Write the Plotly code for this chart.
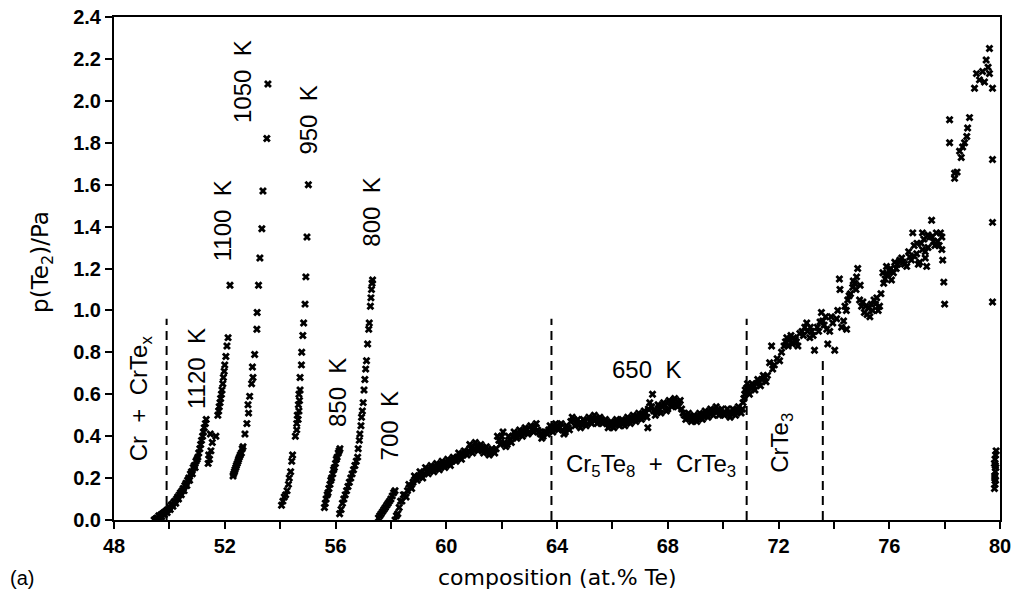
import plotly.graph_objects as go

# ---------------- data ----------------
x_1120 = [49.45, 49.50, 49.55, 49.60, 49.62, 49.65, 49.70, 49.72, 49.75, 49.80, 49.82, 49.85, 49.90, 49.92, 49.95,
          50.00, 50.03, 50.06, 50.10, 50.13, 50.16, 50.20, 50.23, 50.26, 50.30, 50.33, 50.36, 50.40, 50.43, 50.46,
          50.50, 50.53, 50.56, 50.60, 50.63, 50.66, 50.70, 50.73, 50.76, 50.80, 50.83, 50.86, 50.90, 50.93, 50.96,
          51.00, 51.03, 51.06, 51.10, 51.13, 51.16, 51.20, 51.23, 51.26, 51.30, 51.33]
p_1120 = [0.00, 0.005, 0.01, 0.00, 0.02, 0.01, 0.025, 0.015, 0.03, 0.035, 0.025, 0.04, 0.045, 0.035, 0.05,
          0.06, 0.05, 0.07, 0.075, 0.065, 0.085, 0.09, 0.08, 0.10, 0.11, 0.10, 0.12, 0.13, 0.12, 0.14,
          0.15, 0.14, 0.165, 0.175, 0.165, 0.19, 0.20, 0.19, 0.22, 0.23, 0.22, 0.25, 0.26, 0.25, 0.28,
          0.29, 0.30, 0.32, 0.34, 0.36, 0.38, 0.40, 0.42, 0.44, 0.46, 0.48]

x_1100 = [51.40, 51.45, 51.42, 51.50, 51.55, 51.48, 51.68, 51.75, 51.78, 51.80, 51.83, 51.85, 51.88, 51.90, 51.93,
          51.95, 51.98, 52.00, 52.04, 52.08, 52.12, 52.19]
p_1100 = [0.27, 0.29, 0.31, 0.33, 0.37, 0.41, 0.40, 0.50, 0.52, 0.54, 0.56, 0.58, 0.60, 0.62, 0.65,
          0.68, 0.71, 0.74, 0.78, 0.83, 0.87, 1.12]

x_1050 = [52.30, 52.32, 52.35, 52.37, 52.40, 52.42, 52.45, 52.48, 52.50, 52.53, 52.56, 52.60, 52.63, 52.66,
          52.73, 52.80, 52.86, 52.84, 52.90, 52.97, 53.02, 53.00, 53.08, 53.16, 53.17, 53.22, 53.27, 53.34,
          53.38, 53.52, 53.56]
p_1050 = [0.21, 0.22, 0.23, 0.24, 0.25, 0.26, 0.27, 0.28, 0.29, 0.30, 0.31, 0.32, 0.34, 0.35,
          0.41, 0.46, 0.51, 0.55, 0.59, 0.65, 0.68, 0.73, 0.79, 0.91, 0.99, 1.12, 1.25, 1.39,
          1.57, 1.82, 2.08]

x_950 = [54.05, 54.10, 54.15, 54.20, 54.25, 54.30, 54.33, 54.38, 54.42, 54.45, 54.55, 54.60, 54.60, 54.65, 54.62,
         54.68, 54.66, 54.70, 54.68, 54.72, 54.72, 54.77, 54.78, 54.82, 54.85, 54.90, 54.93, 54.97, 55.02]
p_950 = [0.07, 0.09, 0.11, 0.12, 0.14, 0.17, 0.20, 0.23, 0.28, 0.31, 0.40, 0.43, 0.46, 0.48, 0.50,
         0.52, 0.55, 0.57, 0.60, 0.62, 0.68, 0.74, 0.80, 0.88, 0.94, 1.03, 1.16, 1.35, 1.60]

x_850 = [55.60, 55.63, 55.66, 55.70, 55.73, 55.76, 55.80, 55.83, 55.86, 55.90, 55.93, 55.96, 56.00, 56.03,
         56.06, 56.10, 56.13, 56.16]
p_850 = [0.06, 0.08, 0.10, 0.12, 0.13, 0.15, 0.17, 0.19, 0.20, 0.22, 0.24, 0.25, 0.27, 0.29,
         0.30, 0.32, 0.33, 0.34]

x_800 = [56.15, 56.20, 56.25, 56.30, 56.35, 56.40, 56.45, 56.50, 56.55, 56.60, 56.65, 56.70, 56.75, 56.80,
         56.82, 56.86, 56.88, 56.92, 56.94, 56.97, 57.00, 57.03, 57.06, 57.09, 57.12, 57.16, 57.20, 57.22,
         57.26, 57.28, 57.30, 57.32, 57.34]
p_800 = [0.03, 0.05, 0.08, 0.10, 0.12, 0.14, 0.16, 0.18, 0.20, 0.22, 0.24, 0.26, 0.28, 0.30,
         0.34, 0.38, 0.41, 0.45, 0.49, 0.52, 0.56, 0.62, 0.67, 0.72, 0.76, 0.84, 0.91, 0.94,
         1.02, 1.06, 1.10, 1.13, 1.145]

x_700 = [57.55, 57.60, 57.65, 57.70, 57.75, 57.80, 57.85, 57.90, 57.95, 58.00, 58.05, 58.10, 58.15]
p_700 = [0.01, 0.02, 0.03, 0.04, 0.05, 0.06, 0.07, 0.08, 0.09, 0.10, 0.115, 0.13, 0.14]

# 650 K run: main path
x_650a = [58.15, 58.20, 58.30, 58.40, 58.50, 58.60, 58.70, 58.80, 58.90, 59.00, 59.10, 59.20, 59.30, 59.40,
          59.50, 59.60, 59.70, 59.80, 59.90, 60.00, 60.10, 60.20, 60.30, 60.40, 60.50, 60.60, 60.70, 60.80,
          60.90, 61.00, 61.10, 61.20, 61.30, 61.40, 61.50, 61.60, 61.70, 61.80, 61.90, 62.00, 62.10, 62.20,
          62.30, 62.40, 62.50, 62.60, 62.70, 62.80, 62.90, 63.00, 63.10, 63.20, 63.30, 63.40, 63.50, 63.60,
          63.70, 63.80, 63.90, 64.00, 64.10, 64.20, 64.30, 64.40, 64.50, 64.60, 64.70, 64.80, 64.90, 65.00,
          65.10, 65.20, 65.30, 65.40, 65.50, 65.60, 65.70, 65.80, 65.90, 66.00, 66.10, 66.20, 66.30, 66.40,
          66.50, 66.60, 66.70, 66.80, 66.90, 67.00, 67.10, 67.20, 67.30, 67.35, 67.45, 67.28, 67.50, 67.60,
          67.70, 67.80, 67.90, 68.00, 68.10, 68.20, 68.30, 68.40, 68.50, 68.60, 68.70, 68.80, 68.90, 69.00,
          69.10, 69.20, 69.30, 69.40, 69.50, 69.60, 69.70, 69.80, 69.90, 70.00, 70.10, 70.20, 70.30, 70.40,
          70.50, 70.60, 70.70, 70.75, 70.80, 70.85, 70.90, 71.00, 71.10, 71.20, 71.30, 71.40, 71.50, 71.60]
p_650a = [0.00, 0.02, 0.06, 0.09, 0.12, 0.14, 0.16, 0.18, 0.20, 0.21, 0.22, 0.22, 0.23, 0.24,
          0.24, 0.25, 0.25, 0.26, 0.26, 0.27, 0.27, 0.28, 0.29, 0.30, 0.30, 0.31, 0.32, 0.33,
          0.34, 0.34, 0.35, 0.34, 0.34, 0.33, 0.33, 0.32, 0.33, 0.34, 0.38, 0.40, 0.37, 0.36,
          0.38, 0.40, 0.40, 0.41, 0.41, 0.42, 0.43, 0.42, 0.43, 0.44, 0.43, 0.41, 0.40, 0.42,
          0.43, 0.43, 0.44, 0.45, 0.44, 0.43, 0.42, 0.44, 0.47, 0.48, 0.46, 0.46, 0.46, 0.47,
          0.46, 0.47, 0.48, 0.48, 0.47, 0.48, 0.47, 0.46, 0.45, 0.46, 0.46, 0.47, 0.47, 0.46,
          0.47, 0.48, 0.48, 0.48, 0.49, 0.49, 0.50, 0.51, 0.53, 0.56, 0.60, 0.44, 0.52, 0.52,
          0.53, 0.54, 0.55, 0.53, 0.56, 0.57, 0.55, 0.56, 0.53, 0.50, 0.49, 0.49, 0.48, 0.48,
          0.49, 0.50, 0.50, 0.51, 0.51, 0.52, 0.52, 0.52, 0.51, 0.51, 0.51, 0.51, 0.51, 0.52,
          0.52, 0.52, 0.53, 0.58, 0.62, 0.63, 0.61, 0.63, 0.64, 0.65, 0.66, 0.67, 0.68, 0.69]

# 650 K run: second pass filling the band width
x_650b = [58.25, 58.35, 58.45, 58.55, 58.65, 58.75, 58.85, 58.95, 59.05, 59.15, 59.25, 59.35, 59.45, 59.55,
          59.65, 59.75, 59.85, 59.95, 60.05, 60.15, 60.25, 60.35, 60.45, 60.55, 60.65, 60.75, 60.85, 60.95,
          61.05, 61.15, 61.25, 61.35, 61.45, 61.55, 61.65, 61.75, 61.85, 61.95, 62.05, 62.15, 62.25, 62.35,
          62.45, 62.55, 62.65, 62.75, 62.85, 62.95, 63.05, 63.15, 63.25, 63.35, 63.45, 63.55, 63.65, 63.75,
          63.85, 63.95, 64.05, 64.15, 64.25, 64.35, 64.45, 64.55, 64.65, 64.75, 64.85, 64.95, 65.05, 65.15,
          65.25, 65.35, 65.45, 65.55, 65.65, 65.75, 65.85, 65.95, 66.05, 66.15, 66.25, 66.35, 66.45, 66.55,
          66.65, 66.75, 66.85, 66.95, 67.05, 67.15, 67.25, 67.42, 67.55, 67.65, 67.75, 67.85, 67.95, 68.05,
          68.15, 68.25, 68.35, 68.45, 68.55, 68.65, 68.75, 68.85, 68.95, 69.05, 69.15, 69.25, 69.35, 69.45,
          69.55, 69.65, 69.75, 69.85, 69.95, 70.05, 70.15, 70.25, 70.35, 70.45, 70.55, 70.65, 70.72, 70.78,
          70.88, 70.95, 71.05, 71.15, 71.25, 71.35, 71.45, 71.55]
p_650b = [0.03, 0.09, 0.12, 0.11, 0.17, 0.15, 0.21, 0.19, 0.23, 0.20, 0.25, 0.22, 0.26, 0.23,
          0.27, 0.24, 0.28, 0.25, 0.29, 0.26, 0.30, 0.28, 0.32, 0.29, 0.33, 0.31, 0.36, 0.32,
          0.37, 0.33, 0.36, 0.32, 0.35, 0.31, 0.34, 0.32, 0.40, 0.36, 0.42, 0.35, 0.40, 0.37,
          0.42, 0.39, 0.43, 0.40, 0.44, 0.41, 0.45, 0.42, 0.46, 0.42, 0.39, 0.42, 0.41, 0.45,
          0.42, 0.46, 0.43, 0.46, 0.41, 0.45, 0.43, 0.49, 0.45, 0.48, 0.44, 0.48, 0.45, 0.49,
          0.46, 0.50, 0.46, 0.49, 0.46, 0.48, 0.44, 0.47, 0.44, 0.48, 0.45, 0.48, 0.45, 0.49,
          0.46, 0.50, 0.47, 0.51, 0.48, 0.52, 0.49, 0.54, 0.50, 0.55, 0.51, 0.56, 0.52, 0.57,
          0.54, 0.58, 0.54, 0.57, 0.51, 0.48, 0.51, 0.47, 0.50, 0.47, 0.51, 0.48, 0.52, 0.49,
          0.53, 0.50, 0.54, 0.50, 0.53, 0.50, 0.53, 0.49, 0.53, 0.50, 0.54, 0.51, 0.56, 0.60,
          0.65, 0.60, 0.65, 0.62, 0.67, 0.64, 0.69, 0.66]

# 650 K run: CrTe3 region and Te-rich end
x_650c = [71.68, 71.75, 71.79, 71.85, 71.95, 72.04, 72.11, 72.20, 72.25, 72.30, 72.35, 72.40, 72.45, 72.50,
          72.55, 72.60, 72.65, 72.70, 72.77, 72.85, 72.90, 72.95, 73.02, 73.05, 73.13, 73.15, 73.20, 73.25,
          73.30, 73.40, 73.45, 73.50, 73.55, 73.60, 73.65, 73.70, 73.74, 73.78, 73.85, 73.90, 73.96, 74.03,
          74.10, 74.14, 74.20, 74.22, 74.28, 74.35, 74.40, 74.45, 74.46, 74.50, 74.55, 74.60, 74.68, 74.70,
          74.75, 74.80, 74.82, 74.86, 74.93, 74.95, 75.00, 75.05, 75.10, 75.15, 75.20, 75.25, 75.30, 75.35,
          75.40, 75.45, 75.50, 75.55, 75.60, 75.65, 75.70, 75.77, 75.80, 75.85, 75.90, 75.95, 76.00, 76.05,
          76.08, 76.15, 76.20, 76.25, 76.30, 76.38, 76.45, 76.50, 76.55, 76.63, 76.70, 76.74, 76.80, 76.85,
          76.90, 76.90, 76.99, 77.00, 77.05, 77.10, 77.15, 77.20, 77.20, 77.25, 77.30, 77.30, 77.35, 77.40,
          77.40, 77.46, 77.53, 77.55, 77.60, 77.65, 77.70, 77.75, 77.80, 77.85, 77.90, 77.90, 77.93, 77.97,
          78.00, 78.18, 78.18, 78.36, 78.36, 78.45, 78.54, 78.60, 78.65, 78.72, 78.80, 78.83, 78.90, 79.08,
          79.15, 79.26, 79.37, 79.44, 79.50, 79.57, 79.62, 79.62, 79.73, 79.73, 79.73, 79.73]
p_650c = [0.75, 0.83, 0.72, 0.74, 0.77, 0.76, 0.80, 0.83, 0.85, 0.87, 0.83, 0.86, 0.88, 0.84,
          0.87, 0.86, 0.85, 0.83, 0.89, 0.90, 0.88, 0.92, 0.94, 0.90, 0.87, 0.92, 0.90, 0.88,
          0.81, 0.92, 0.90, 0.945, 0.99, 0.95, 0.93, 0.97, 0.91, 0.84, 0.90, 0.97, 0.94, 0.81,
          0.96, 1.00, 1.15, 1.10, 0.92, 0.95, 1.02, 1.00, 0.91, 1.05, 1.07, 1.08, 1.11, 1.14,
          1.13, 1.10, 1.16, 1.20, 1.05, 1.12, 1.02, 1.04, 0.99, 1.02, 0.98, 1.01, 0.97, 1.03,
          1.00, 1.05, 1.03, 1.06, 1.00, 1.02, 1.08, 1.18, 1.13, 1.15, 1.21, 1.17, 1.19, 1.20,
          1.145, 1.18, 1.23, 1.20, 1.22, 1.24, 1.25, 1.23, 1.22, 1.21, 1.28, 1.255, 1.24, 1.37,
          1.26, 1.31, 1.27, 1.32, 1.22, 1.23, 1.32, 1.29, 1.37, 1.34, 1.25, 1.28, 1.21, 1.30,
          1.36, 1.35, 1.43, 1.35, 1.33, 1.31, 1.37, 1.33, 1.31, 1.37, 1.35, 1.29, 1.24, 1.135,
          1.03, 1.91, 1.80, 1.655, 1.63, 1.66, 1.76, 1.73, 1.78, 1.80, 1.83, 1.87, 1.92, 2.06,
          2.13, 2.10, 2.14, 2.09, 2.195, 2.16, 2.25, 2.13, 2.06, 1.72, 1.42, 1.04]

# Te-rich end, low-pressure cluster
x_end = [79.80, 79.82, 79.84, 79.81, 79.83, 79.85, 79.80, 79.82, 79.84, 79.86, 79.81, 79.83]
p_end = [0.15, 0.17, 0.19, 0.21, 0.23, 0.25, 0.27, 0.29, 0.31, 0.33, 0.20, 0.26]

# phase boundaries (dashed lines): composition and top of line
boundary_x = [49.9, 63.8, 70.85, 73.6]
boundary_top = [0.96, 0.96, 0.96, 0.78]

# ---------------- figure ----------------
fig = go.Figure()
marker = dict(symbol="x", size=7, color="black", line=dict(width=0))

for xs, ys in [(x_1120, p_1120), (x_1100, p_1100), (x_1050, p_1050), (x_950, p_950),
               (x_850, p_850), (x_800, p_800), (x_700, p_700), (x_650a, p_650a),
               (x_650b, p_650b), (x_650c, p_650c), (x_end, p_end)]:
    fig.add_trace(go.Scatter(x=xs, y=ys, mode="markers", marker=marker,
                             showlegend=False, hoverinfo="x+y"))

for bx, bt in zip(boundary_x, boundary_top):
    fig.add_trace(go.Scatter(x=[bx, bx], y=[0, bt], mode="lines",
                             line=dict(color="black", width=2, dash="9px,6px"),
                             showlegend=False, hoverinfo="skip"))

FONT = "Liberation Sans, Arial, sans-serif"
lab_font = dict(family=FONT, size=24, color="black")
NB = "\u00a0"
labels = [
    ("Cr" + NB + NB + "+" + NB + NB + "CrTe<sub>x</sub>", 48.97, 0.58, -90),
    ("1120" + NB + NB + "K", 50.96, 0.725, -90),
    ("1100" + NB + NB + "K", 51.9, 1.43, -90),
    ("1050" + NB + NB + "K", 52.66, 2.09, -90),
    ("950" + NB + NB + "K", 55.04, 1.91, -90),
    ("800" + NB + NB + "K", 57.31, 1.47, -90),
    ("850" + NB + NB + "K", 56.05, 0.61, -90),
    ("700" + NB + NB + "K", 57.96, 0.45, -90),
    ("650" + NB + NB + "K", 67.24, 0.716, 0),
    ("Cr<sub>5</sub>Te<sub>8</sub>" + NB + NB + "+" + NB + NB + "CrTe<sub>3</sub>", 67.39, 0.26, 0),
    ("CrTe<sub>3</sub>", 72.1, 0.37, -90),
]
for text, x, y, ang in labels:
    fig.add_annotation(x=x, y=y, text=text, showarrow=False, textangle=ang,
                       font=lab_font, xanchor="center", yanchor="middle")

title_font = dict(family="DejaVu Sans, sans-serif", size=22, color="black")
fig.add_annotation(x=-0.104, y=-0.115, xref="paper", yref="paper", text="(a)",
                   showarrow=False, xanchor="center", yanchor="middle",
                   font=dict(family=FONT, size=20, color="black"))
fig.add_annotation(x=-0.0813, y=0.513, xref="paper", yref="paper", text="p(Te<sub>2</sub>)/Pa",
                   textangle=-90, showarrow=False, xanchor="center", yanchor="middle",
                   font=dict(family="DejaVu Sans, sans-serif", size=23, color="black"))
fig.add_annotation(x=0.5, y=-0.115, xref="paper", yref="paper", text="composition (at.% Te)",
                   showarrow=False, xanchor="center", yanchor="middle", font=title_font)

tick_font = dict(family=FONT, size=20, color="black", weight="bold")
axis_common = dict(showline=True, linecolor="black", linewidth=2, mirror=True,
                   ticks="outside", ticklen=7, tickwidth=2, tickcolor="black",
                   showgrid=False, zeroline=False, tickfont=tick_font, automargin=False,
                   ticklabeloverflow="allow")

fig.update_xaxes(range=[48, 80], tickvals=[48, 52, 56, 60, 64, 68, 72, 76, 80],
                 minor=dict(dtick=2, ticks="outside", ticklen=7, tickwidth=2, tickcolor="black", showgrid=False),
                 **axis_common)
fig.update_yaxes(range=[0, 2.4], dtick=0.2, tickformat=".1f", **axis_common)

fig.update_layout(width=1012, height=597, margin=dict(l=114, r=12, t=17, b=77),
                  plot_bgcolor="white", paper_bgcolor="white")

# remove the browser's default page margin so the figure fills the window exactly
fig.write_html("out.html", config={"displayModeBar": False},
               post_script="document.body.style.margin='0';document.body.style.overflow='hidden';")
